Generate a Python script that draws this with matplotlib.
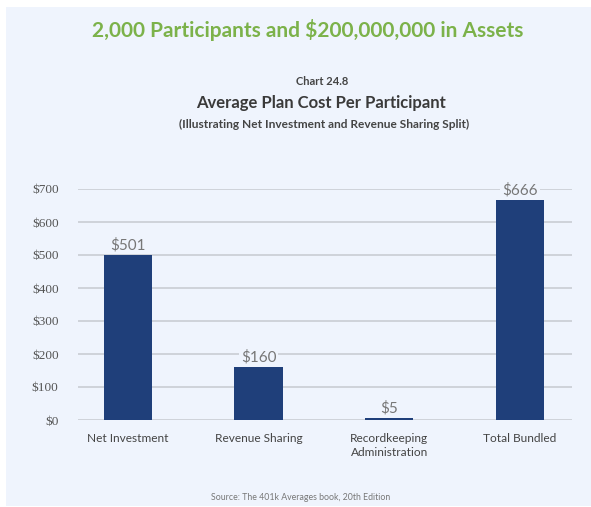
import matplotlib
matplotlib.use("Agg")
import matplotlib.pyplot as plt
from matplotlib.patches import Rectangle

# chart data
categories = ["Net Investment", "Revenue Sharing", "Recordkeeping\nAdministration", "Total Bundled"]
costs = [501, 160, 5, 666]
cost_labels = ["$501", "$160", "$5", "$666"]
y_ticks = [0, 100, 200, 300, 400, 500, 600, 700]

panel = "#eff4fd"
navy = "#1f3f7a"
grey = "#555555"

fig = plt.figure(figsize=(5.91, 5.07), dpi=100)
fig.patch.set_facecolor("white")
fig.patches.append(Rectangle((6 / 591, 0.002), 1, 1 - 7 / 507 - 0.002,
                             transform=fig.transFigure, facecolor=panel,
                             edgecolor="none", zorder=-10))

fig.text(0.52, 1 - 30 / 507, "2,000 Participants and $200,000,000 in Assets",
         ha="center", va="center", fontsize=15, color="#7cb24a",
         family="Lato", fontweight="bold")
fig.text(0.545, 1 - 82 / 507, "Chart 24.8", ha="center", va="center",
         fontsize=8, color="#444444", family="Lato", fontweight="bold")
fig.text(0.543, 1 - 103 / 507, "Average Plan Cost Per Participant", ha="center",
         va="center", fontsize=12, color="#3a3a3a", family="Lato", fontweight="bold")
fig.text(0.548, 1 - 124 / 507, "(Illustrating Net Investment and Revenue Sharing Split)",
         ha="center", va="center", fontsize=8.6, color="#444444", family="Lato",
         fontweight="bold")
fig.text(0.508, 1 - 497 / 507, "Source: The 401k Averages book, 20th Edition",
         ha="center", va="center", fontsize=6.3, color="#777777", family="Lato")

ax = fig.add_axes([78 / 591, 1 - 420 / 507, 494 / 591, 231 / 507])
ax.set_facecolor(panel)
x = list(range(len(categories)))
ax.bar(x, costs, width=0.37, color=navy, zorder=3)
for xi, v, lab in zip(x, costs, cost_labels):
    ax.text(xi, v + 8, lab, ha="center", va="bottom", fontsize=11,
            color="#777777", family="Lato", zorder=4,
            bbox=dict(facecolor=panel, edgecolor="none", pad=1.5))

ax.set_ylim(0, 700)
ax.set_xlim(-0.383, 3.4)
ax.set_yticks(y_ticks)
ax.set_yticklabels(["$%d" % t for t in y_ticks], family="Liberation Serif",
                   fontsize=9.5, color=grey)
ax.set_xticks(x)
ax.set_xticklabels(categories, family="Lato", fontsize=8.6, color="#444444",
                   linespacing=1.35)
ax.yaxis.grid(True, color="#c9cdd4", linewidth=1.2, zorder=0)
ax.tick_params(length=0)
ax.tick_params(axis="y", pad=14)
ax.tick_params(axis="x", pad=9)
for s in ax.spines.values():
    s.set_visible(False)

plt.savefig("out.png", dpi=100, facecolor=fig.get_facecolor())
